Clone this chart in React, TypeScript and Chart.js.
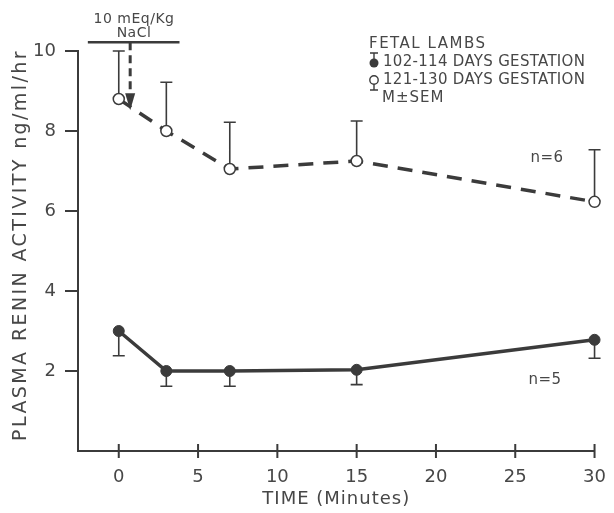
import React, { useEffect, useRef } from 'react';
import { Chart, registerables } from 'chart.js';

Chart.register(...registerables);

// ---- data ----
const timePoints = [0, 3, 7, 15, 30];
const earlyMeans = [3.0, 2.0, 2.0, 2.03, 2.78];
const earlySem = [0.62, 0.38, 0.38, 0.37, 0.46];
const lateMeans = [8.8, 8.0, 7.05, 7.25, 6.23];
const lateSem = [1.2, 1.22, 1.17, 1.0, 1.3];
const xTickValues = [0, 5, 10, 15, 20, 25, 30];
const yTickValues = [0, 2, 4, 6, 8, 10];
const seriesLabels = ['102-114 DAYS GESTATION', '121-130 DAYS GESTATION'];
const legendTitle = 'FETAL LAMBS';
const legendNote = 'M\u00B1SEM';
const doseLines = ['10 mEq/Kg', 'NaCl'];
const nLabels = ['n=5', 'n=6'];
const xTitle = 'TIME (Minutes)';
const yTitle = 'PLASMA RENIN ACTIVITY ng/ml/hr';

const INK = '#3b3b3b';
const TEXT = '#474747';
const FONT = "'DejaVu Sans', 'Liberation Sans', sans-serif";

function errorBars(ctx: CanvasRenderingContext2D, xs: any, ys: any, means: number[], sems: number[], dir: number) {
  ctx.beginPath();
  for (let i = 0; i < timePoints.length; i++) {
    const px = xs.getPixelForValue(timePoints[i]);
    const p0 = ys.getPixelForValue(means[i]);
    const p1 = ys.getPixelForValue(means[i] + dir * sems[i]);
    ctx.moveTo(px, p0);
    ctx.lineTo(px, p1);
    ctx.moveTo(px - 6, p1);
    ctx.lineTo(px + 6, p1);
  }
  ctx.stroke();
}

function spaced(ctx: any, text: string, x: number, y: number, spacing: number) {
  ctx.letterSpacing = `${spacing}px`;
  ctx.fillText(text, x, y);
  ctx.letterSpacing = '0px';
}

const extras = {
  id: 'extras',
  beforeDatasetsDraw(chart: any) {
    const { ctx, scales } = chart;
    ctx.save();
    ctx.strokeStyle = INK;
    ctx.lineWidth = 1.6;
    errorBars(ctx, scales.x, scales.y, lateMeans, lateSem, 1);
    errorBars(ctx, scales.x, scales.y, earlyMeans, earlySem, -1);
    ctx.restore();
  },
  afterDraw(chart: any) {
    const { ctx, scales, chartArea } = chart;
    const xs = scales.x;
    const ys = scales.y;
    ctx.save();
    ctx.strokeStyle = INK;
    // x ticks crossing the axis
    ctx.lineWidth = 2;
    ctx.beginPath();
    for (const v of xTickValues) {
      const px = xs.getPixelForValue(v);
      ctx.moveTo(px, chartArea.bottom - 7);
      ctx.lineTo(px, chartArea.bottom + 7);
    }
    ctx.stroke();

    // dose bar and dashed arrow
    const barY = ys.getPixelForValue(10.22);
    ctx.lineWidth = 2.5;
    ctx.beginPath();
    ctx.moveTo(xs.getPixelForValue(-1.95), barY);
    ctx.lineTo(xs.getPixelForValue(3.83), barY);
    ctx.stroke();
    const ax = xs.getPixelForValue(0.72);
    const tipY = ys.getPixelForValue(8.52);
    ctx.lineWidth = 3;
    ctx.setLineDash([8, 5]);
    ctx.beginPath();
    ctx.moveTo(ax, barY);
    ctx.lineTo(ax, tipY - 12);
    ctx.stroke();
    ctx.setLineDash([]);
    ctx.fillStyle = INK;
    ctx.beginPath();
    ctx.moveTo(ax - 5, tipY - 17);
    ctx.lineTo(ax + 5, tipY - 17);
    ctx.lineTo(ax, tipY);
    ctx.closePath();
    ctx.fill();

    // text
    ctx.fillStyle = TEXT;
    ctx.textBaseline = 'middle';
    ctx.textAlign = 'center';
    ctx.font = `14px ${FONT}`;
    spaced(ctx, doseLines[0], 134, 19, 0.5);
    spaced(ctx, doseLines[1], 134, 33, 0.5);

    ctx.textAlign = 'left';
    ctx.font = `15px ${FONT}`;
    spaced(ctx, legendTitle, 369, 44, 1.5);
    spaced(ctx, seriesLabels[0], 383, 62, 0.3);
    spaced(ctx, seriesLabels[1], 383, 80, 0.3);
    spaced(ctx, legendNote, 382, 98, 1);

    // axis titles
    ctx.font = `18px ${FONT}`;
    ctx.textAlign = 'center';
    spaced(ctx, xTitle, (chartArea.left + chartArea.right) / 2, 499, 1);
    ctx.save();
    ctx.translate(21, 245);
    ctx.rotate(-Math.PI / 2);
    ctx.font = `19px ${FONT}`;
    spaced(ctx, yTitle, 0, 0, 2.4);
    ctx.restore();

    // legend symbols
    ctx.lineWidth = 1.4;
    ctx.beginPath();
    ctx.moveTo(374, 63);
    ctx.lineTo(374, 53);
    ctx.moveTo(370, 53);
    ctx.lineTo(378, 53);
    ctx.moveTo(374, 80);
    ctx.lineTo(374, 90);
    ctx.moveTo(370, 90);
    ctx.lineTo(378, 90);
    ctx.stroke();
    ctx.fillStyle = INK;
    ctx.beginPath();
    ctx.arc(374, 63, 4.5, 0, Math.PI * 2);
    ctx.fill();
    ctx.beginPath();
    ctx.arc(374, 80, 4.2, 0, Math.PI * 2);
    ctx.fillStyle = '#ffffff';
    ctx.fill();
    ctx.stroke();

    ctx.fillStyle = TEXT;
    ctx.textAlign = 'center';
    ctx.font = `15px ${FONT}`;
    spaced(ctx, nLabels[1], 547, 158, 0.5);
    spaced(ctx, nLabels[0], 545, 380, 0.5);
    ctx.restore();
  },
};

export default function App() {
  const ref = useRef<HTMLCanvasElement>(null);
  useEffect(() => {
    if (!ref.current) return;
    const chart = new Chart(ref.current, {
      type: 'line',
      data: {
        datasets: [
          {
            label: seriesLabels[1],
            data: timePoints.map((t, i) => ({ x: t, y: lateMeans[i] })),
            borderColor: INK,
            borderWidth: 3.5,
            borderDash: [15, 10],
            pointRadius: 5.5,
            pointBorderWidth: 1.5,
            pointBackgroundColor: '#ffffff',
            pointBorderColor: INK,
            tension: 0,
            clip: false,
          },
          {
            label: seriesLabels[0],
            data: timePoints.map((t, i) => ({ x: t, y: earlyMeans[i] })),
            borderColor: INK,
            borderWidth: 3.5,
            pointRadius: 5.5,
            pointBorderWidth: 1,
            pointBackgroundColor: INK,
            pointBorderColor: INK,
            tension: 0,
            clip: false,
          },
        ],
      },
      options: {
        responsive: false,
        animation: false,
        layout: { padding: { left: 0, right: 16, top: 51, bottom: 0 } },
        plugins: { legend: { display: false }, tooltip: { enabled: false } },
        scales: {
          x: {
            type: 'linear',
            min: -2.57,
            max: 30,
            afterBuildTicks: (s: any) => {
              s.ticks = xTickValues.map((v) => ({ value: v }));
            },
            afterFit: (s: any) => {
              s.height = 62;
            },
            grid: { display: false },
            border: { display: true, color: INK, width: 2 },
            ticks: {
              padding: 8,
              color: TEXT,
              font: { family: FONT, size: 18 },
              maxRotation: 0,
              autoSkip: false,
            },
          },
          y: {
            type: 'linear',
            min: 0,
            max: 10,
            afterBuildTicks: (s: any) => {
              s.ticks = yTickValues.map((v) => ({ value: v }));
            },
            afterFit: (s: any) => {
              s.width = 78;
            },
            grid: {
              drawOnChartArea: false,
              drawTicks: true,
              tickLength: 13,
              lineWidth: 2,
              color: (c: any) => (c.tick && c.tick.value === 0 ? 'rgba(0,0,0,0)' : INK),
            },
            border: { display: true, color: INK, width: 2 },
            ticks: {
              padding: 9,
              color: TEXT,
              font: { family: FONT, size: 18 },
              callback: (v: any) => (v === 0 ? '' : String(v)),
            },
          },
        },
      },
      plugins: [extras],
    });
    return () => chart.destroy();
  }, []);
  return (
    <div style={{ position: 'fixed', left: 0, top: 0, width: 614, height: 513, background: '#ffffff' }}>
      <canvas ref={ref} width={614} height={513} />
    </div>
  );
}
